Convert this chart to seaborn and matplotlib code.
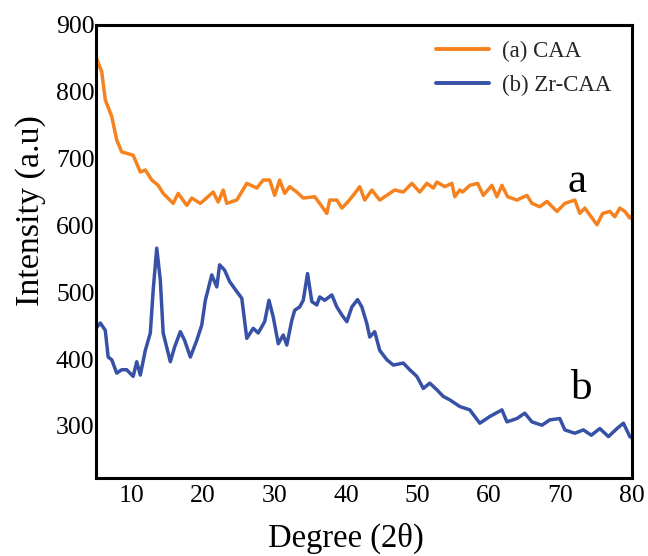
import numpy as np
import pandas as pd
import matplotlib
matplotlib.use("Agg")
import matplotlib.pyplot as plt
import seaborn as sns

# ---- data ----
caa_x = [5.0, 5.8, 6.3, 7.2, 7.9, 8.6, 9.3, 10.2, 11.2, 11.9, 12.8, 13.7, 14.4, 15.8, 16.5,
         17.7, 18.4, 19.6, 21.4, 22.1, 22.8, 23.3, 24.7, 26.1, 27.5, 28.4, 29.3, 30.0, 30.7,
         31.4, 32.1, 33.1, 34.0, 35.6, 36.3, 37.3, 37.7, 38.7, 39.4, 40.3, 41.2, 41.9, 42.6,
         43.6, 44.7, 46.1, 46.8, 48.0, 49.2, 50.3, 51.3, 52.2, 52.7, 53.8, 54.8, 55.2, 55.9,
         56.3, 57.3, 58.4, 59.2, 60.4, 61.1, 61.8, 62.6, 63.9, 65.3, 66.0, 67.1, 68.1, 69.5,
         70.6, 72.0, 72.7, 73.4, 75.1, 75.9, 76.9, 77.6, 78.3, 79.0, 79.7, 80.0]
caa_y = [852, 830, 788, 763, 728, 710, 708, 705, 680, 683, 668, 660, 648, 633, 648,
         630, 641, 633, 650, 635, 653, 633, 638, 663, 656, 668, 668, 645, 668,
         648, 658, 650, 641, 643, 633, 618, 638, 638, 626, 636, 648, 658, 638,
         653, 638, 648, 653, 650, 663, 650, 663, 656, 665, 658, 663, 643, 653,
         650, 660, 663, 645, 660, 643, 660, 643, 638, 645, 633, 628, 636, 621,
         633, 638, 618, 626, 601, 618, 621, 613, 626, 621, 611, 615]

zr_x = [5.0, 5.6, 6.3, 6.7, 7.2, 7.9, 8.6, 9.3, 10.2, 10.7, 11.2, 11.9, 12.6, 13.0, 13.5,
        14.0, 14.4, 15.4, 16.0, 16.8, 17.4, 18.2, 19.1, 19.8, 20.3, 21.2, 21.9, 22.3, 23.0,
        23.7, 24.7, 25.4, 26.1, 27.0, 27.7, 28.6, 29.2, 29.8, 30.5, 31.2, 31.7, 32.4, 32.8,
        33.5, 34.0, 34.6, 35.2, 35.9, 36.3, 37.0, 38.0, 38.7, 39.4, 40.1, 40.8, 41.6, 42.2,
        42.9, 43.3, 44.0, 44.7, 45.7, 46.6, 48.0, 48.9, 49.9, 50.8, 51.7, 52.7, 53.6, 54.5,
        55.9, 57.3, 58.7, 60.1, 61.8, 62.5, 63.9, 65.0, 66.0, 67.4, 68.5, 69.9, 70.6, 72.0,
        73.2, 74.3, 75.5, 76.7, 77.9, 78.8, 79.7, 80.0]
zr_y = [446, 454, 443, 403, 399, 379, 384, 384, 374, 396, 376, 413, 439, 503, 566,
        518, 439, 396, 418, 441, 428, 403, 428, 451, 488, 526, 508, 541, 533,
        516, 501, 491, 431, 446, 439, 456, 488, 463, 423, 436, 421, 458, 473,
        478, 488, 528, 486, 481, 493, 488, 496, 478, 466, 456, 478, 489, 478,
        453, 433, 441, 413, 399, 391, 394, 384, 374, 356, 364, 354, 344, 339,
        329, 324, 304, 314, 324, 306, 311, 319, 306, 301, 309, 311, 294, 289,
        294, 286, 296, 284, 296, 304, 284, 282]

series_names = ["(a) CAA", "(b) Zr-CAA"]
x_ticks = [10, 20, 30, 40, 50, 60, 70, 80]
y_ticks = [300, 400, 500, 600, 700, 800, 900]
curve_labels = ["a", "b"]

df = pd.concat([
    pd.DataFrame({"x": caa_x, "y": caa_y, "series": series_names[0]}),
    pd.DataFrame({"x": zr_x, "y": zr_y, "series": series_names[1]}),
], ignore_index=True)

sns.set_style("white")
plt.rcParams["font.family"] = ["Liberation Serif", "DejaVu Serif"]

fig = plt.figure(figsize=(6.48, 5.56), dpi=100)
ax = fig.add_axes([96 / 648, 1 - 478 / 556, (632 - 96) / 648, (478 - 25) / 556])

palette = {series_names[0]: "#f5821f", series_names[1]: "#3651a6"}
sns.lineplot(data=df, x="x", y="y", hue="series", palette=palette, estimator=None,
             sort=True, linewidth=2.5, ax=ax, legend=False)

ax.set_xlim(5, 80)
ax.set_ylim(222, 900)
ax.set_xticks(x_ticks)
ax.set_yticks(y_ticks)
ax.set_xticklabels([str(t) for t in x_ticks])
ax.set_yticklabels([str(t) for t in y_ticks])
ax.tick_params(axis="both", length=0, labelsize=18.5, colors="black")
ax.tick_params(axis="x", pad=5)
ax.tick_params(axis="y", pad=1)

for s in ax.spines.values():
    s.set_visible(True)
    s.set_color("black")
    s.set_linewidth(2.2)

ax.set_xlabel("Degree (2θ)", fontsize=23.5, color="black")
ax.set_ylabel("Intensity (a.u)", fontsize=24.5, color="black")
ax.xaxis.set_label_coords(0.467, -0.098)
ax.yaxis.set_label_coords(-0.094, 0.59)

ax.text(72.3, 666, curve_labels[0], fontsize=31, ha="center", va="center", color="black")
ax.text(73.0, 355, curve_labels[1], fontsize=31, ha="center", va="center", color="black")

handles = [plt.Line2D([], [], color=palette[n], linewidth=2.8) for n in series_names]
ax.legend(handles, series_names, loc="upper left", bbox_to_anchor=(0.635, 0.965),
          frameon=False, fontsize=16.5, handlelength=2.3, handletextpad=0.55,
          labelspacing=0.55, borderpad=0, borderaxespad=0)

fig.savefig("out.png", dpi=100)
